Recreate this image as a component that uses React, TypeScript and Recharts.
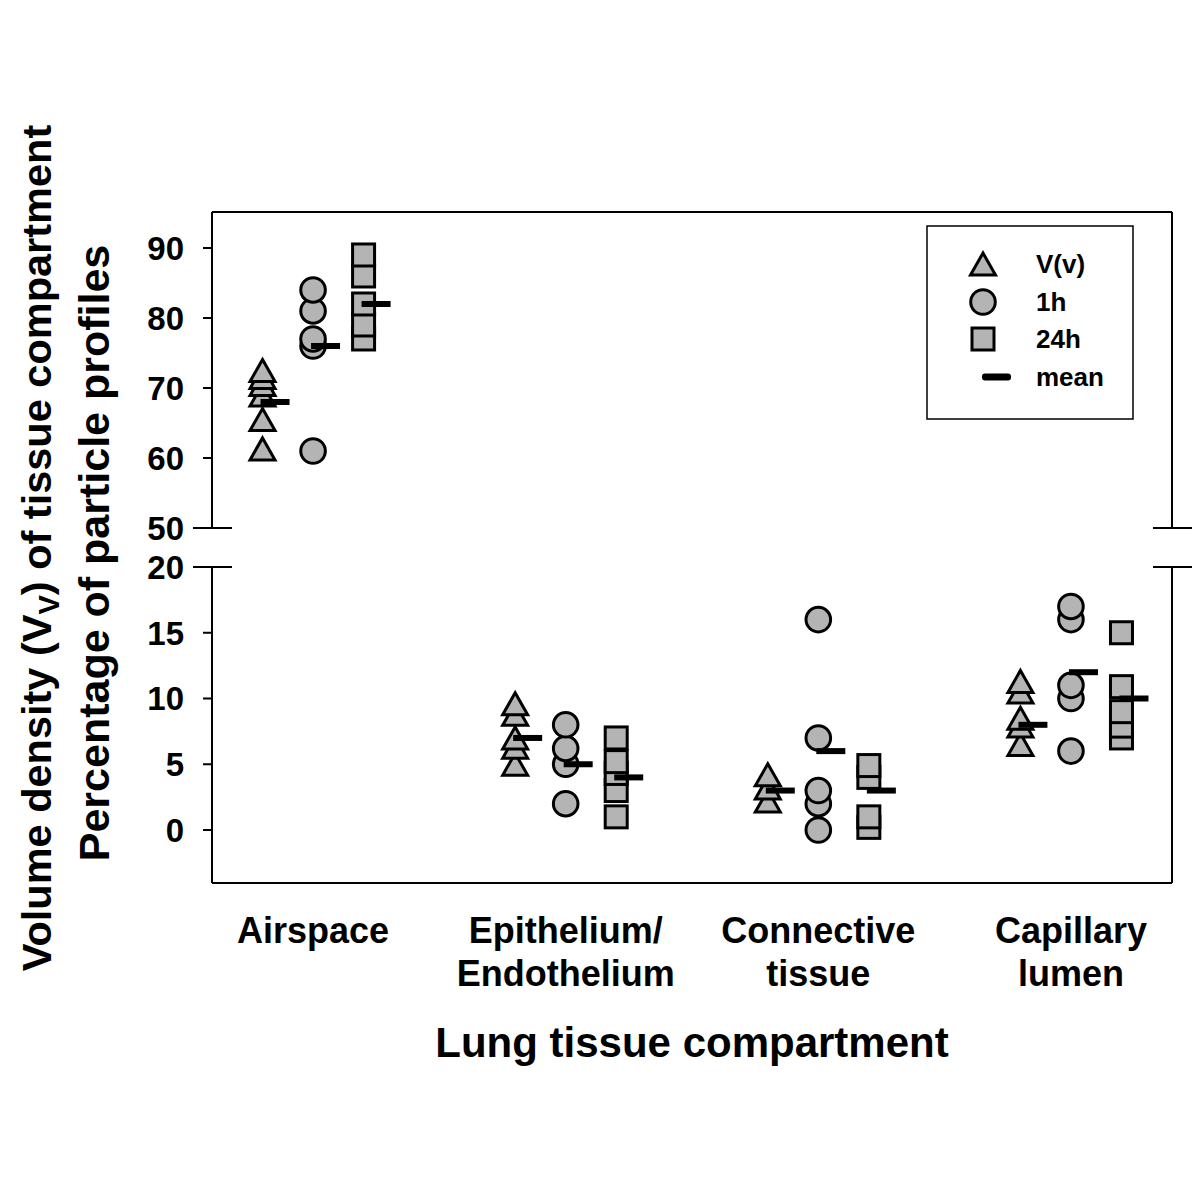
import React from 'react';
import { ScatterChart, Scatter, XAxis, YAxis } from 'recharts';

// ---------- data ----------
const categoryLines: string[][] = [
  ['Airspace'],
  ['Epithelium/', 'Endothelium'],
  ['Connective', 'tissue'],
  ['Capillary', 'lumen'],
];
const categoryPositions = [1, 2, 3, 4];

// individual values per compartment (ascending)
const vvValues: number[][] = [
  [61.3, 65.5, 69, 70.5, 71.5, 72.5],
  [5, 6.3, 7, 8.8, 9.6],
  [2.2, 3.2, 4.2],
  [6.5, 7.9, 8.5, 10.5, 11.3],
];
const h1Values: number[][] = [
  [61, 76, 77, 81, 84],
  [2, 5, 6.2, 8],
  [0, 2, 3, 7, 16],
  [6, 10, 11, 16, 17],
];
const h24Values: number[][] = [
  [77, 79, 82, 86, 89],
  [1, 3, 4.3, 5.2, 7],
  [0.2, 1, 4, 4.9],
  [7, 7.9, 9, 10.9, 15],
];
const vvMeans = [68, 7, 3, 8];
const h1Means = [76, 5, 6, 12];
const h24Means = [82, 4, 3, 10];

const upperTicks = [50, 60, 70, 80, 90];
const lowerTicks = [0, 5, 10, 15, 20];
const upperDomain: [number, number] = [50, 95.14];
const lowerDomain: [number, number] = [-4.03, 20];
const xDomain: [number, number] = [0.6, 4.4];
const breakUpper = 50;
const breakLower = 20;

const offsetVV = -0.2;
const offsetH1 = 0;
const offsetH24 = 0.2;

const legendLabels = ['V(v)', '1h', '24h', 'mean'];
const xTitle = 'Lung tissue compartment';
const yTitleMain = 'Volume density (V';
const yTitleSub = 'V';
const yTitleRest = ') of tissue compartment';
const yTitle2 = 'Percentage of particle profiles';

// ---------- styles ----------
const FONT = "'Liberation Sans', Arial, Helvetica, sans-serif";
const FILL = '#b4b4b4';
const TICK_SIZE = 9;
const TICK_MARGIN = 19;

type Pt = { x: number; y: number };
const makePoints = (values: number[][], offset: number, idxs: number[]): Pt[] =>
  idxs.flatMap((i) => values[i].map((v) => ({ x: categoryPositions[i] + offset, y: v })));
const makeMeans = (means: number[], offset: number, idxs: number[]): Pt[] =>
  idxs.map((i) => ({ x: categoryPositions[i] + offset, y: means[i] }));

const Triangle = ({ cx, cy }: any) => (
  <polygon
    points={`${cx},${cy - 11} ${cx + 12.5},${cy + 11} ${cx - 12.5},${cy + 11}`}
    fill={FILL}
    stroke="#000"
    strokeWidth={3}
    strokeLinejoin="miter"
  />
);
const Circle = ({ cx, cy }: any) => (
  <circle cx={cx} cy={cy} r={12.3} fill={FILL} stroke="#000" strokeWidth={3} />
);
const Square = ({ cx, cy }: any) => (
  <rect x={cx - 11} y={cy - 11} width={22} height={22} fill={FILL} stroke="#000" strokeWidth={3} />
);
const MeanBar = ({ cx, cy }: any) => (
  <rect x={cx - 2} y={cy - 3} width={29} height={6} fill="#000" />
);

const leftTick = (p: any, breakValue: number) => {
  const axisX = p.x + TICK_SIZE + TICK_MARGIN;
  return (
    <g>
      {p.payload.value === breakValue && (
        <line x1={axisX - 19} x2={axisX + 20} y1={p.y} y2={p.y} stroke="#000" strokeWidth={2} />
      )}
      <text
        x={p.x}
        y={p.y}
        dy="0.36em"
        textAnchor="end"
        fontFamily={FONT}
        fontWeight="bold"
        fontSize={33}
        fill="#000"
      >
        {p.payload.value}
      </text>
    </g>
  );
};
const rightTick = (p: any) => (
  <line x1={p.x - 19} x2={p.x + 20} y1={p.y} y2={p.y} stroke="#000" strokeWidth={2} />
);
const bottomTick = (p: any) => {
  const idx = categoryPositions.indexOf(p.payload.value);
  const lines = categoryLines[idx] || [];
  return (
    <text x={p.x} y={p.y} textAnchor="middle" fontFamily={FONT} fontWeight="bold" fontSize={36} fill="#000">
      {lines.map((l, i) => (
        <tspan key={i} x={p.x} dy={i === 0 ? 60 : 43}>
          {l}
        </tspan>
      ))}
    </text>
  );
};

const upperIdx = [0];
const lowerIdx = [1, 2, 3];

const axisLine = { stroke: '#000', strokeWidth: 2 };

const UPPER_H = 548;
const LOWER_H = 1204 - UPPER_H;

function Panel({
  idxs,
  domain,
  ticks,
  breakValue,
  top,
}: {
  idxs: number[];
  domain: [number, number];
  ticks: number[];
  breakValue: number;
  top: boolean;
}) {
  const height = top ? UPPER_H : LOWER_H;
  const margin = top
    ? { top: 211, right: 27, bottom: UPPER_H - 528, left: 0 }
    : { top: 567 - UPPER_H, right: 27, bottom: 0, left: 0 };
  return (
    <ScatterChart width={1200} height={height} margin={margin}>
      {top ? (
        <XAxis
          xAxisId="x"
          type="number"
          dataKey="x"
          orientation="top"
          domain={xDomain}
          allowDataOverflow
          height={1}
          ticks={[]}
          tick={false}
          tickLine={false}
          axisLine={axisLine}
        />
      ) : (
        <XAxis
          xAxisId="x"
          type="number"
          dataKey="x"
          orientation="bottom"
          domain={xDomain}
          allowDataOverflow
          ticks={categoryPositions}
          interval={0}
          height={1204 - 883}
          tickSize={0}
          tickMargin={0}
          tickLine={false}
          tick={bottomTick}
          axisLine={axisLine}
        />
      )}
      <YAxis
        yAxisId="left"
        type="number"
        dataKey="y"
        domain={domain}
        ticks={ticks}
        interval={0}
        allowDataOverflow
        width={212}
        tickSize={TICK_SIZE}
        tickMargin={TICK_MARGIN}
        tickLine={{ stroke: '#000', strokeWidth: 2 }}
        axisLine={axisLine}
        tick={(p: any) => leftTick(p, breakValue)}
      />
      <YAxis
        yAxisId="right"
        orientation="right"
        type="number"
        dataKey="y"
        domain={domain}
        ticks={[breakValue]}
        interval={0}
        allowDataOverflow
        width={1}
        tickSize={0}
        tickMargin={0}
        tickLine={false}
        axisLine={axisLine}
        tick={rightTick}
      />
      <Scatter
        name="V(v)"
        xAxisId="x"
        yAxisId="left"
        data={makePoints(vvValues, offsetVV, idxs)}
        dataKey="y"
        shape={Triangle}
        isAnimationActive={false}
      />
      <Scatter
        name="1h"
        xAxisId="x"
        yAxisId="left"
        data={makePoints(h1Values, offsetH1, idxs)}
        dataKey="y"
        shape={Circle}
        isAnimationActive={false}
      />
      <Scatter
        name="24h"
        xAxisId="x"
        yAxisId="left"
        data={makePoints(h24Values, offsetH24, idxs)}
        dataKey="y"
        shape={Square}
        isAnimationActive={false}
      />
      <Scatter
        name="mean V(v)"
        xAxisId="x"
        yAxisId="left"
        data={makeMeans(vvMeans, offsetVV, idxs)}
        dataKey="y"
        shape={MeanBar}
        isAnimationActive={false}
      />
      <Scatter
        name="mean 1h"
        xAxisId="x"
        yAxisId="left"
        data={makeMeans(h1Means, offsetH1, idxs)}
        dataKey="y"
        shape={MeanBar}
        isAnimationActive={false}
      />
      <Scatter
        name="mean 24h"
        xAxisId="x"
        yAxisId="left"
        data={makeMeans(h24Means, offsetH24, idxs)}
        dataKey="y"
        shape={MeanBar}
        isAnimationActive={false}
      />
    </ScatterChart>
  );
}

export default function App() {
  const legendY = [264, 302, 339, 377];
  return (
    <div style={{ position: 'absolute', left: 0, top: 0, width: 1200, height: 1204, background: '#fff' }}>
      <div style={{ position: 'absolute', left: 0, top: 0 }}>
        <Panel idxs={upperIdx} domain={upperDomain} ticks={upperTicks} breakValue={breakUpper} top />
      </div>
      <div style={{ position: 'absolute', left: 0, top: UPPER_H }}>
        <Panel idxs={lowerIdx} domain={lowerDomain} ticks={lowerTicks} breakValue={breakLower} top={false} />
      </div>
      <svg
        width={1200}
        height={1204}
        style={{ position: 'absolute', left: 0, top: 0, pointerEvents: 'none' }}
      >
        {/* axis titles */}
        <text
          transform="translate(51,548) rotate(-90)"
          textAnchor="middle"
          fontFamily={FONT}
          fontWeight="bold"
          fontSize={41.5}
          fill="#000"
        >
          {yTitleMain}
          <tspan fontSize={29} dy={8}>
            {yTitleSub}
          </tspan>
          <tspan dy={-8}>{yTitleRest}</tspan>
        </text>
        <text
          transform="translate(109,553) rotate(-90)"
          textAnchor="middle"
          fontFamily={FONT}
          fontWeight="bold"
          fontSize={43}
          fill="#000"
        >
          {yTitle2}
        </text>
        <text x={692} y={1057} textAnchor="middle" fontFamily={FONT} fontWeight="bold" fontSize={42} fill="#000">
          {xTitle}
        </text>
        {/* legend */}
        <rect x={927} y={226} width={206} height={193} fill="#fff" stroke="#000" strokeWidth={1.5} />
        <Triangle cx={983} cy={legendY[0]} />
        <Circle cx={983} cy={legendY[1]} />
        <Square cx={983} cy={legendY[2]} />
        <rect x={982} y={legendY[3] - 3.5} width={29} height={7} rx={3} fill="#000" />
        {legendLabels.map((l, i) => (
          <text
            key={l}
            x={1036}
            y={legendY[i]}
            dy="0.36em"
            fontFamily={FONT}
            fontWeight="bold"
            fontSize={26}
            fill="#000"
          >
            {l}
          </text>
        ))}
      </svg>
    </div>
  );
}
